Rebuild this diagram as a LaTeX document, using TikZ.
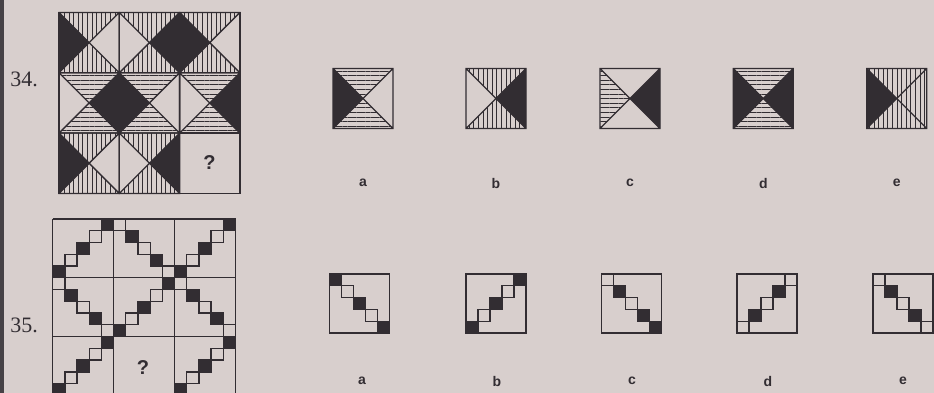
\documentclass[tikz,border=0pt]{standalone}
\usepackage{fontspec}
\setmainfont{Liberation Serif}
\setsansfont{Liberation Sans}
\usetikzlibrary{patterns.meta}

\definecolor{paper}{RGB}{216,207,205}
\definecolor{ink}{RGB}{50,45,50}

% square cut by both diagonals: x, y, size, top, right, bottom, left
\newcommand\xcell[7]{%
  \begin{scope}[shift={(#1,#2)}, x=#3pt, y=-#3pt]
    \path[#4] (0,0) -- (1,0) -- (.5,.5) -- cycle;
    \path[#5] (1,0) -- (1,1) -- (.5,.5) -- cycle;
    \path[#6] (0,1) -- (1,1) -- (.5,.5) -- cycle;
    \path[#7] (0,0) -- (0,1) -- (.5,.5) -- cycle;
    \draw[gridline] (0,0) rectangle (1,1) (0,0) -- (1,1) (1,0) -- (0,1);
  \end{scope}}

% staircase of five small squares: [opts] x, y, dir (0 down-right, 1 down-left), fills
\newcommand\stairs[5][]{%
  \begin{scope}[shift={(#2,#3)}, x=12.2pt, y=-11.76pt, #1]
    \foreach \f [count=\k from 0] in {#5}
      \draw[stepsq, \f] ({#4*(4-2*\k)+\k}, \k) rectangle ++(1,1);
  \end{scope}}

\begin{document}
\begin{tikzpicture}[x=1pt, y=-1pt,
    gridline/.style={draw=ink, line width=1.3pt},
    boxline/.style={draw=ink, line width=1.7pt},
    blk/.style={fill=ink},
    vl/.style={pattern={Lines[angle=90, distance=4.6pt, line width=.7pt]}, pattern color=ink},
    hl/.style={pattern={Lines[angle=0, distance=4.6pt, line width=.7pt]}, pattern color=ink},
    emp/.style={},
    stepsq/.style={draw=ink, line width=1.3pt},
    bk/.style={fill=ink},
    op/.style={},
    optlabel/.style={font=\sffamily\bfseries\fontsize{14}{14}\selectfont, text=ink},
    qmark/.style={font=\sffamily\bfseries\fontsize{20}{20}\selectfont, text=ink},
    qnum/.style={font=\fontsize{22}{22}\selectfont, text=ink}]
  \useasboundingbox (0,0) rectangle (934,393);
  \clip (0,0) rectangle (934,393);
  \fill[paper] (0,0) rectangle (934,393);
  \fill[ink!90] (0,0) rectangle (4,393);

  % question 34
  \node[qnum] (num34) at (24,79) {34.};
  \foreach \ii/\jj/\tp/\rt/\bt/\lf in {0/0/vl/emp/vl/blk, 0/1/vl/blk/vl/emp, 0/2/vl/emp/vl/blk,
      1/0/hl/blk/hl/emp, 1/1/hl/emp/hl/blk, 1/2/hl/blk/hl/emp,
      2/0/vl/emp/vl/blk, 2/1/vl/blk/vl/emp}
    \xcell{59+60.3*\jj}{12.5+60.3*\ii}{60.3}{\tp}{\rt}{\bt}{\lf};
  \draw[gridline] (179.6,133.1) rectangle ++(60.3,60.3);
  \draw[boxline] (59,12.5) rectangle ++(180.9,180.9);
  \node[qmark] (q34) at (209.5,163) {?};

  \xcell{333}{68.5}{60}{hl}{emp}{hl}{blk}
  \xcell{466}{68.5}{60}{vl}{blk}{vl}{emp}
  \xcell{600}{68.5}{60}{emp}{blk}{emp}{hl}
  \xcell{733.3}{68.5}{60}{hl}{blk}{hl}{blk}
  \xcell{866.7}{68.5}{60}{vl}{vl}{vl}{blk}
  \foreach \n/\x in {a/363, b/496, c/630, d/763.3, e/896.7}
    \node[optlabel] (l34\n) at (\x,183) {\n};

  % question 35
  \node[qnum] (num35) at (24,325) {35.};
  \foreach \ii in {0,...,3} \draw[gridline] (52.7+60.9*\ii,219) -- ++(0,180);
  \foreach \jj in {0,...,3} \draw[gridline] (52.7,219+58.8*\jj) -- ++(182.7,0);
  \stairs{52.7}{219}{1}{bk,op,bk,op,bk}
  \stairs{113.6}{219}{0}{op,bk,op,bk,op}
  \stairs{174.5}{219}{1}{bk,op,bk,op,bk}
  \stairs{52.7}{277.8}{0}{op,bk,op,bk,op}
  \stairs{113.6}{277.8}{1}{bk,op,bk,op,bk}
  \stairs{174.5}{277.8}{0}{op,bk,op,bk,op}
  \stairs{52.7}{336.6}{1}{bk,op,bk,op,bk}
  \stairs{174.5}{336.6}{1}{bk,op,bk,op,bk}
  \node[qmark] (q35) at (143,368) {?};

  \stairs[x=12pt, y=-11.8pt]{329.5}{274}{0}{bk,op,bk,op,bk}
  \stairs[x=12pt, y=-11.8pt]{466}{274}{1}{bk,op,bk,op,bk}
  \stairs[x=12pt, y=-11.8pt]{601.5}{274}{0}{op,bk,op,bk,bk}
  \stairs[x=12pt, y=-11.8pt]{737}{274}{1}{op,bk,op,bk,op}
  \stairs[x=12pt, y=-11.8pt]{873}{274}{0}{op,bk,op,bk,op}
  \foreach \x in {329.5, 466, 601.5, 737, 873}
    \draw[boxline] (\x,274) rectangle ++(60,59);
  \foreach \n/\x in {a/362, b/497, c/632, d/768, e/903}
    \node[optlabel] (l35\n) at (\x,381) {\n};
\end{tikzpicture}
\end{document}
